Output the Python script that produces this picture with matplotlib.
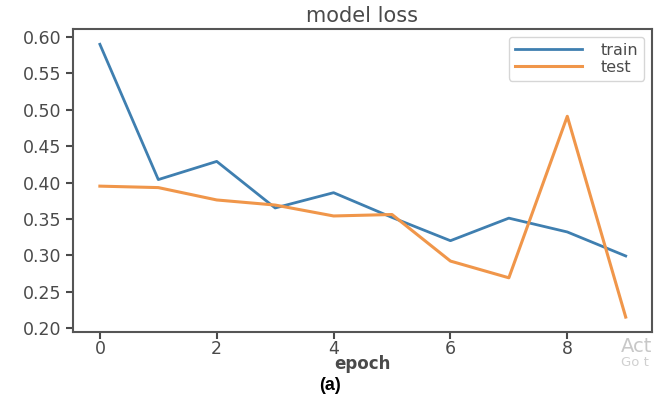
import matplotlib.pyplot as plt
import numpy as np

epochs = np.arange(10)
train_loss = [0.590, 0.404, 0.429, 0.365, 0.386, 0.352, 0.320, 0.351, 0.332, 0.299]
test_loss = [0.395, 0.393, 0.376, 0.369, 0.354, 0.356, 0.292, 0.269, 0.491, 0.215]
yticks = [0.20, 0.25, 0.30, 0.35, 0.40, 0.45, 0.50, 0.55, 0.60]

txt = '#4a4a4a'
plt.rcParams['font.family'] = ['DejaVu Sans']

fig = plt.figure(figsize=(6.61, 4.0), dpi=100)
ax = fig.add_axes([73 / 661, 1 - 332 / 400, (652 - 73) / 661, (332 - 29) / 400])

ax.plot(epochs, train_loss, color='#3f7fb0', lw=2, label='train')
ax.plot(epochs, test_loss, color='#f0964a', lw=2.2, label='test')

ax.set_ylim(0.1945, 0.611)
ax.set_xlim(-0.46, 9.45)
ax.set_yticks(yticks)
ax.set_yticklabels(['%.2f' % v for v in yticks])
ax.set_xticks([0, 2, 4, 6, 8])
ax.tick_params(labelsize=12.5, colors=txt, width=1.5, length=5)
ax.tick_params(axis='x', pad=1)
for s in ax.spines.values():
    s.set_color('#555555')
    s.set_linewidth(1.5)

ax.set_title('model loss', fontsize=15, color=txt, pad=5)
ax.set_xlabel('epoch', fontsize=12, color=txt, fontweight='semibold', va='center')
ax.xaxis.set_label_coords(0.5, (332 - 364) / 303)

leg = ax.legend(loc='upper right', fontsize=11.5, handlelength=4.2, frameon=True,
                borderaxespad=0.5, labelspacing=0.15, borderpad=0.35, handletextpad=1.2)
for t in leg.get_texts():
    t.set_color(txt)

# watermark fragments visible in the screenshot
fig.text(621 / 661, 1 - 346 / 400, 'Act', fontsize=14, color='#c8c8c8', va='center')
fig.text(621 / 661, 1 - 362 / 400, 'Go t', fontsize=9.5, color='#d0d0d0', va='center')

fig.text(0.5, 1 - 386 / 400, '(a)', fontsize=13, fontweight='bold', ha='center', va='center',
         family=['Liberation Sans', 'DejaVu Sans'])

plt.savefig('out.png', dpi=100)
plt.close()
